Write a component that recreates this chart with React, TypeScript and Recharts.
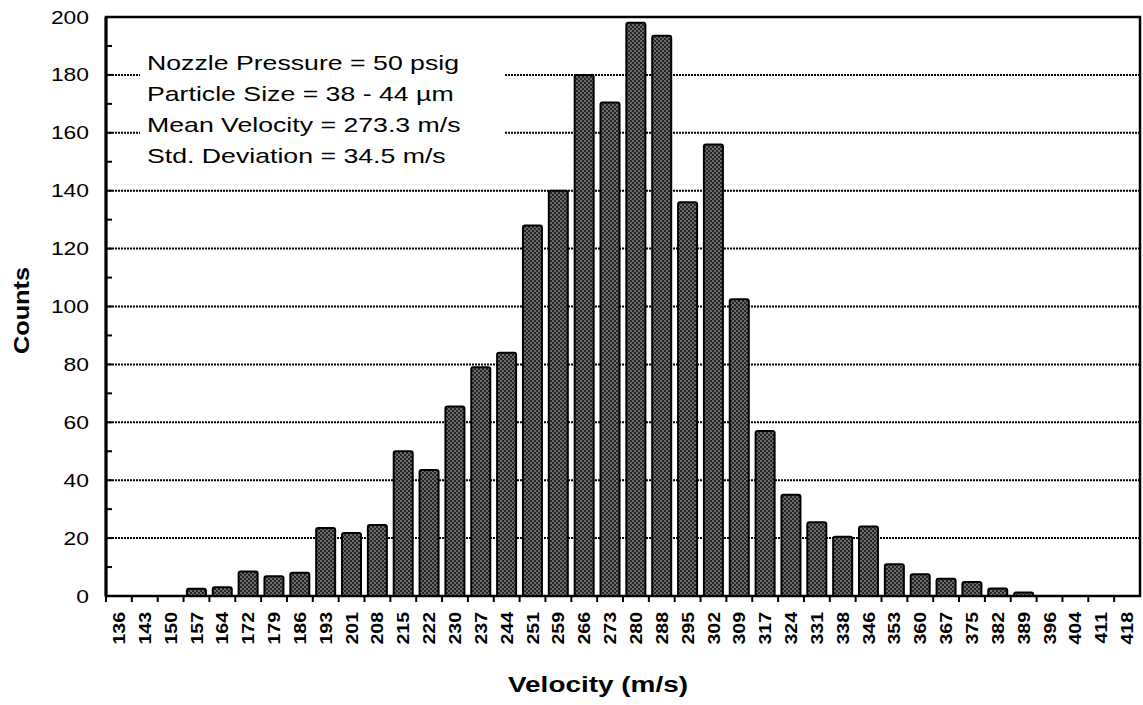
import React from 'react';
import { BarChart, Bar, XAxis, YAxis, CartesianGrid, ReferenceArea } from 'recharts';

const categories = ['136','143','150','157','164','172','179','186','193','201','208','215','222','230','237','244','251','259','266','273','280','288','295','302','309','317','324','331','338','346','353','360','367','375','382','389','396','404','411','418'];
const counts = [0,0,0,2.5,3,8.5,6.8,8,23.5,21.8,24.5,50,43.5,65.5,79,84,128,140,180,170.5,198,193.5,136,156,102.5,57,35,25.5,20.5,24,11,7.5,6,4.8,2.6,1.2,0,0,0,0];
const yTicks = [0,10,20,30,40,50,60,70,80,90,100,110,120,130,140,150,160,170,180,190,200];
const gridValues = [20,40,60,80,100,120,140,160,180];
const notes = ['Nozzle Pressure = 50 psig','Particle Size = 38 - 44 \u00b5m','Mean Velocity = 273.3 m/s','Std. Deviation = 34.5 m/s'];

const data = categories.map((c, i) => ({ v: c, n: counts[i] }));
const FONT = '"Liberation Sans", Arial, Helvetica, sans-serif';
const WIDE = 1.27;

const XTick = (props: any) => {
  const { x, y, payload } = props;
  const off = payload && payload.offset != null ? payload.offset : 12.9;
  return (
    <g>
      <line x1={x - off} x2={x - off} y1={y} y2={y + 6} stroke="#000" strokeWidth={2} />
      <text
        x={0}
        y={0}
        transform={`translate(${x},${y + 16}) rotate(-90) scale(1.15,1)`}
        textAnchor="end"
        dominantBaseline="central"
        fontFamily={FONT}
        fontWeight="bold"
        fontSize={17}
        fill="#000"
      >
        {payload.value}
      </text>
    </g>
  );
};

const YTick = (props: any) => {
  const { x, y, payload } = props;
  const major = payload.value % 20 === 0;
  return (
    <g>
      <line x1={x} x2={x + 6} y1={y} y2={y} stroke="#000" strokeWidth={2} />
      {major && (
        <text
          x={0}
          y={0}
          transform={`translate(${x - 17},${y}) scale(${WIDE},1)`}
          textAnchor="end"
          dominantBaseline="central"
          fontFamily={FONT}
          fontSize={18}
          fill="#000"
        >
          {payload.value}
        </text>
      )}
    </g>
  );
};

const XTitle = (props: any) => {
  const vb = props.viewBox || { x: 106, y: 596, width: 1034, height: 109 };
  const cx = vb.x + vb.width / 2 - 25;
  return (
    <text
      x={0}
      y={0}
      transform={`translate(${cx},${vb.y + 96}) scale(${WIDE},1)`}
      textAnchor="middle"
      fontFamily={FONT}
      fontWeight="bold"
      fontSize={22}
      fill="#000"
    >
      Velocity (m/s)
    </text>
  );
};

const YTitle = (props: any) => {
  const vb = props.viewBox || { x: 0, y: 17, width: 106, height: 579 };
  const cy = vb.y + vb.height / 2 + 4;
  return (
    <text
      x={0}
      y={0}
      transform={`translate(${vb.x + 22},${cy}) rotate(-90) scale(1.15,1)`}
      textAnchor="middle"
      dominantBaseline="central"
      fontFamily={FONT}
      fontWeight="bold"
      fontSize={22}
      fill="#000"
    >
      Counts
    </text>
  );
};

export default function App() {
  return (
    <div style={{ position: 'absolute', left: 0, top: 0, width: 1143, height: 705, background: '#fff' }}>
      <BarChart
        width={1143}
        height={705}
        data={data}
        margin={{ top: 17, right: 3, bottom: 0, left: 0 }}
        barCategoryGap="13%"
      >
        <defs>
          <pattern id="stip" width="4" height="4" patternUnits="userSpaceOnUse">
            <rect x="0" y="0" width="4" height="4" fill="#262626" />
            <circle cx="1" cy="1" r="0.7" fill="#e8e8e8" />
            <circle cx="3" cy="3" r="0.7" fill="#e8e8e8" />
          </pattern>
        </defs>
        <CartesianGrid
          yAxisId="left"
          horizontal
          vertical={false}
          horizontalValues={gridValues}
          stroke="#000"
          strokeWidth={2}
          strokeDasharray="2 1"
        />
        <XAxis
          dataKey="v"
          type="category"
          height={109}
          interval={0}
          tickSize={0}
          tickMargin={0}
          axisLine={{ stroke: '#000', strokeWidth: 2 }}
          tick={<XTick />}
          label={<XTitle />}
        />
        <YAxis
          yAxisId="left"
          domain={[0, 200]}
          ticks={yTicks}
          interval={0}
          width={106}
          tickSize={0}
          tickMargin={0}
          axisLine={{ stroke: '#000', strokeWidth: 3 }}
          tick={<YTick />}
          label={<YTitle />}
        />
        <YAxis yAxisId="right" orientation="right" width={0} tick={false} tickLine={false} axisLine={{ stroke: '#000', strokeWidth: 2 }} domain={[0, 200]} />
        <ReferenceArea yAxisId="left" y1={0} y2={200} fill="none" fillOpacity={0} stroke="#000" strokeWidth={2.5} ifOverflow="visible" />
        <Bar
          yAxisId="left"
          dataKey="n"
          fill="url(#stip)"
          stroke="#000"
          strokeWidth={2}
          radius={[2, 2, 0, 0]}
          isAnimationActive={false}
        />
      </BarChart>
      <div
        style={{
          position: 'absolute',
          left: 140,
          top: 45,
          width: 364,
          height: 125,
          background: '#fff',
          fontFamily: FONT,
          fontSize: 21,
          lineHeight: '31px',
          paddingLeft: 7,
          paddingTop: 2,
          boxSizing: 'border-box',
          color: '#000',
        }}
      >
        {notes.map((t) => (
          <div key={t} style={{ whiteSpace: 'nowrap', transform: `scaleX(${WIDE})`, transformOrigin: 'left center' }}>{t}</div>
        ))}
      </div>
    </div>
  );
}
